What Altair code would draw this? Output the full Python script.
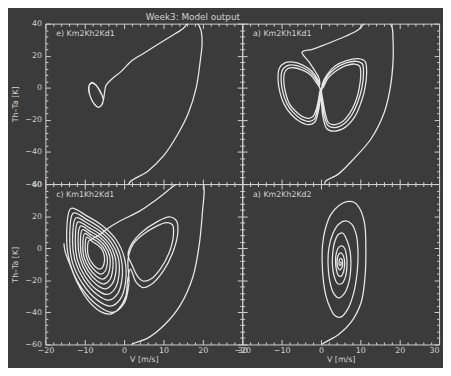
import altair as alt
import pandas as pd

# ---------------- data (V [m/s], Th-Ta [K]) ----------------
TL_APPROACH = [(1.0, -61.0), (1.6, -58.4), (6.1, -51.8), (10.2, -41.8), (13.4, -29.9),
               (16.3, -15.9), (18.3, 0.0), (19.3, 16.0), (19.8, 28.0), (19.5, 36.0),
               (18.5, 40.5), (17.0, 42.0), (15.0, 37.0), (11.8, 32.0), (8.5, 27.0),
               (5.3, 22.0), (2.0, 17.0), (-0.8, 10.1), (-2.9, 6.0), (-4.6, 1.5)]
TL_LOOP = [(-5.0, -3.5), (-5.3, -8.0), (-5.8, -11.0), (-6.6, -12.2), (-7.5, -10.5),
           (-8.4, -6.5), (-9.0, -2.0), (-8.9, 1.5), (-8.3, 3.3), (-7.5, 2.5), (-6.6, 0.0),
           (-5.8, -3.5), (-5.3, -8.0), (-5.9, -11.3), (-6.7, -12.0), (-7.6, -10.0),
           (-8.5, -6.0), (-8.9, -1.8), (-8.8, 1.8), (-8.2, 3.0), (-7.4, 2.0), (-6.5, -0.6),
           (-5.8, -4.0)]

TR_APPROACH = [(1.1, -61.0), (1.1, -58.4), (4.4, -53.8), (8.5, -43.8), (12.7, -31.9),
               (16.0, -15.9), (17.6, 0.0), (18.3, 16.0), (18.3, 30.0), (18.0, 38.0),
               (16.5, 42.5), (13.5, 43.0), (11.0, 40.0), (9.4, 36.0), (6.1, 32.0),
               (1.1, 27.0), (-2.2, 24.0), (-4.8, 22.2), (-3.0, 16.0), (-1.4, 10.0),
               (-0.5, 6.0), (-0.3, 2.0)]
TR_LEFT_A = [(-0.8, 5), (-2.2, 10), (-4.5, 14), (-7.0, 16), (-9.2, 15.5), (-10.6, 12),
             (-10.9, 5), (-10.4, -3), (-9.4, -10), (-7.6, -16.5), (-5.4, -21), (-3.2, -23),
             (-1.6, -21.5), (-0.7, -15), (-0.2, -8), (0.2, -1)]
TR_RIGHT_A = [(0.3, 2), (1.5, 8), (3.5, 13.5), (6.5, 17), (9.5, 18.2), (11.2, 16.5),
              (11.6, 10), (11.2, 0), (10.2, -9), (8.6, -18), (6.2, -24.5), (3.5, -27),
              (1.5, -25.5), (0.5, -18), (0.1, -8), (-0.2, -1)]
TR_LEFT_B = [(-0.9, 4), (-2.4, 9), (-4.6, 12.5), (-6.9, 14.2), (-8.8, 13.5), (-9.9, 10.5),
             (-10.1, 4), (-9.6, -3.5), (-8.6, -10), (-7.0, -15.5), (-5.0, -19.5), (-3.0, -21),
             (-1.7, -19.5), (-0.9, -13.5), (-0.4, -7), (0.0, -1)]
TR_RIGHT_B = [(0.4, 1), (1.6, 7), (3.6, 12), (6.4, 15.5), (9.0, 16.5), (10.5, 15),
              (10.8, 9), (10.4, 0), (9.4, -8.5), (7.9, -16.5), (5.8, -22.5), (3.5, -24.8),
              (1.8, -23.5), (0.8, -17), (0.3, -8), (-0.1, -1)]
TR_LEFT_C = [(-1.1, 3), (-2.6, 8), (-4.7, 11), (-6.8, 12.5), (-8.4, 12), (-9.3, 9),
             (-9.4, 3), (-8.9, -4), (-8.0, -10), (-6.5, -14.5), (-4.7, -18), (-3.0, -19),
             (-1.9, -17.5), (-1.1, -12.5), (-0.6, -7), (-0.1, -1)]
TR_RIGHT_C = [(0.5, 0), (1.8, 6), (3.8, 10.5), (6.3, 13.8), (8.6, 14.8), (9.8, 13.5),
              (10.1, 8), (9.7, -0.5), (8.8, -8.5), (7.4, -15.5), (5.5, -21), (3.6, -23),
              (2.0, -22), (1.1, -16), (0.5, -8), (0.0, -1)]

BL_APPROACH = [(2.0, -61.0), (2.0, -60.0), (6.1, -55.9), (10.2, -47.9), (14.2, -35.8),
               (17.5, -17.6), (19.1, 2.6), (19.9, 22.8), (20.3, 37.0), (19.8, 42.0),
               (17.0, 43.5), (13.4, 40.0), (8.5, 30.9), (3.7, 22.8), (-1.2, 16.8),
               (-4.5, 11.7), (-6.1, 8.7), (-8.0, 6.0)]
BL_LEFT_1 = [(-9.0, 4.5), (-9.3, 0.1), (-9.1, -4.6), (-8.3, -8.7), (-7.2, -11.8), (-6.1, -13.0),
             (-5.4, -11.6), (-5.0, -8.2), (-5.1, -4.0), (-5.7, -0.4), (-6.8, 2.2), (-8.0, 4.0)]
BL_LEFT_2 = [(-9.5, 6.9), (-9.9, 1.1), (-9.6, -5.0), (-8.6, -10.5), (-7.1, -14.6), (-5.8, -16.1),
             (-4.8, -14.2), (-4.3, -9.8), (-4.4, -4.4), (-5.3, 0.4), (-6.6, 3.8), (-8.2, 6.2)]
BL_LEFT_3 = [(-10.0, 9.2), (-10.5, 2.0), (-10.2, -5.5), (-8.9, -12.2), (-7.1, -17.3), (-5.4, -19.2),
             (-4.2, -16.9), (-3.6, -11.4), (-3.7, -4.7), (-4.8, 1.2), (-6.5, 5.4), (-8.4, 8.3)]
BL_LEFT_4 = [(-10.6, 11.5), (-11.1, 3.0), (-10.7, -6.0), (-9.2, -14.0), (-7.1, -20.0), (-5.1, -22.3),
             (-3.6, -19.5), (-2.9, -13.0), (-3.0, -5.0), (-4.3, 2.0), (-6.3, 7.0), (-8.6, 10.5)]
BL_LEFT_5 = [(-11.1, 13.8), (-11.7, 4.0), (-11.2, -6.5), (-9.5, -15.8), (-7.0, -22.7), (-4.7, -25.3),
             (-3.0, -22.1), (-2.1, -14.6), (-2.3, -5.3), (-3.8, 2.8), (-6.1, 8.6), (-8.8, 12.7)]
BL_LEFT_6 = [(-11.7, 16.4), (-12.4, 5.0), (-11.9, -7.0), (-9.9, -17.7), (-7.0, -25.8), (-4.3, -28.8),
             (-2.3, -25.1), (-1.3, -16.4), (-1.5, -5.7), (-3.3, 3.7), (-6.0, 10.4), (-9.0, 15.1)]
BL_LEFT_7 = [(-12.2, 19.0), (-13.1, 6.1), (-12.5, -7.6), (-10.2, -19.7), (-6.9, -28.8), (-3.9, -32.3),
             (-1.6, -28.1), (-0.5, -18.2), (-0.8, -6.0), (-2.7, 4.6), (-5.8, 12.2), (-9.2, 17.5)]
BL_LEFT_8 = [(-12.9, 21.9), (-13.8, 7.3), (-13.2, -8.2), (-10.6, -21.9), (-6.9, -32.2), (-3.4, -36.1),
             (-0.9, -31.4), (0.4, -20.2), (0.1, -6.4), (-2.1, 5.6), (-5.6, 14.2), (-9.5, 20.2)]
BL_LEFT_9 = [(-13.5, 24.8), (-14.6, 8.5), (-13.8, -8.8), (-11.0, -24.1), (-6.8, -35.6), (-3.0, -40.0),
             (-0.1, -34.7), (1.2, -22.2), (1.0, -6.8)]
BL_RIGHT_1 = [(2.3, 2.5), (4.8, 8.5), (8.0, 13.5), (10.8, 16.0), (12.3, 14.5), (12.5, 7.5),
              (11.4, -3.0), (9.3, -12.5), (6.9, -19.0), (4.9, -20.5), (3.4, -17.5), (2.1, -11.0),
              (1.0, -4.0)]
BL_RIGHT_2 = [(2.0, 3.0), (4.5, 10.0), (8.0, 16.0), (11.5, 19.5), (13.3, 17.0), (13.6, 9.0),
              (12.3, -3.0), (10.0, -14.0), (7.2, -22.0), (4.8, -24.5), (3.0, -21.0), (1.6, -13.0)]
BL_END = [(0.9, -20.0), (0.4, -30.0), (-1.3, -37.5), (-3.4, -41.0), (-6.0, -39.5), (-9.0, -33.0),
          (-11.8, -22.0), (-13.8, -10.0), (-15.0, -2.0), (-15.3, 3.0)]

BR_APPROACH = [(0.3, -61.0), (0.3, -60.0), (4.4, -54.0), (7.7, -45.9), (10.2, -33.8),
               (11.2, -17.6), (11.4, 0.0), (11.1, 15.0), (10.0, 24.0), (8.5, 28.5),
               (6.5, 29.0), (4.5, 26.5), (2.5, 21.0), (1.1, 12.0), (0.4, 2.0), (0.3, -8.0),
               (0.6, -20.0), (1.3, -30.0), (2.4, -37.5), (3.5, -42.0), (5.0, -43.0)]
BR_SPIRAL = [(6.8, -38.0), (8.3, -28.0), (9.2, -15.0), (9.4, -2.0), (9.0, 8.0), (7.8, 15.0),
             (6.3, 17.0), (4.5, 15.0), (3.0, 9.0), (2.0, 0.0), (1.8, -10.0), (2.2, -20.0),
             (3.2, -28.0), (4.5, -31.0), (6.0, -28.0), (7.2, -20.0), (7.6, -10.0), (7.4, -2.0),
             (6.6, 5.0), (5.5, 9.5), (4.4, 8.5), (3.5, 4.0), (3.0, -3.0), (2.9, -10.0),
             (3.3, -17.0), (4.2, -22.0), (5.3, -22.0), (6.2, -18.0), (6.6, -11.0), (6.5, -5.0),
             (6.0, 0.0), (5.3, 1.5), (4.5, 0.5), (3.9, -3.0), (3.7, -8.0), (3.9, -13.0),
             (4.4, -17.0), (5.1, -17.5), (5.7, -15.0), (6.0, -10.5), (5.9, -6.5), (5.4, -3.5),
             (4.8, -3.0), (4.3, -5.0), (4.1, -8.5), (4.3, -12.0), (4.8, -13.5), (5.3, -12.0),
             (5.5, -9.0), (5.2, -6.5), (4.8, -6.5), (4.6, -8.5), (4.7, -10.5), (5.0, -10.5),
             (5.1, -9.0), (4.9, -8.5)]

PANEL_LABELS = ["e) Km2Kh2Kd1", "a) Km2Kh1Kd1", "c) Km1Kh2Kd1", "a) Km2Kh2Kd2"]
X_MAJOR = [-20, -10, 0, 10, 20, 30]
X_MINOR = [-18, -16, -14, -12, -8, -6, -4, -2, 2, 4, 6, 8, 12, 14, 16, 18, 22, 24, 26, 28]
Y_MAJOR = [-60, -40, -20, 0, 20, 40]
Y_MINOR = [-56, -52, -48, -44, -36, -32, -28, -24, -16, -12, -8, -4, 4, 8, 12, 16, 24, 28, 32, 36]
TITLE = "Week3: Model output"
X_TITLE = "V [m/s]"
Y_TITLE = "Th\u2013Ta [K]"

# ---------------- styling ----------------
W, H = 200, 163
BG = "#3b3b3b"
LINE = "#e6e6e6"
INK = "#d2d2d2"
FONT = "DejaVu Sans"


def build(segs):
    V, T = [], []
    for s in segs:
        for v, t in s:
            V.append(v)
            T.append(t)
    return pd.DataFrame({"V": V, "T": T, "i": list(range(len(V)))})


CORNERS = pd.DataFrame({"V": [X_MAJOR[0], X_MAJOR[-1]], "T": [Y_MAJOR[0], Y_MAJOR[-1]]})


def panel(df, label, show_x, show_y, right_col, title=None):
    xs = alt.Scale(domain=[-20, 30], nice=False, zero=False)
    ys = alt.Scale(domain=[-60, 40], nice=False, zero=False)
    if show_x:
        align = alt.ExprRef(expr="datum.value == 30 ? 'right' : 'center'") if right_col else "center"
        xax = alt.Axis(values=X_MAJOR, ticks=False, domain=False, grid=False, title=X_TITLE,
                       labelPadding=2, titlePadding=1, labelFlush=False, labelAlign=align,
                       labelOverlap=False)
    else:
        xax = None
    if show_y:
        yax = alt.Axis(values=Y_MAJOR, ticks=False, domain=False, grid=False, title=Y_TITLE,
                       labelPadding=4, titlePadding=5, labelOverlap=False)
    else:
        yax = None
    line = alt.Chart(df).mark_line(color=LINE, strokeWidth=1.3, clip=True,
                                   interpolate="catmull-rom").encode(
        x=alt.X("V:Q", scale=xs, axis=xax),
        y=alt.Y("T:Q", scale=ys, axis=yax),
        order="i:Q",
    )

    def ticks(xo, xoff, yo, yoff, xv, yv, size):
        return alt.Chart(CORNERS).mark_point(opacity=0).encode(
            x=alt.X("V:Q", scale=xs, axis=alt.Axis(orient=xo, offset=xoff, values=xv, tickSize=size,
                                                   labels=False, domain=False, grid=False, title=None,
                                                   tickColor=INK, tickWidth=1)),
            y=alt.Y("T:Q", scale=ys, axis=alt.Axis(orient=yo, offset=yoff, values=yv, tickSize=size,
                                                   labels=False, domain=False, grid=False, title=None,
                                                   tickColor=INK, tickWidth=1)),
        )

    layers = [line,
              ticks("top", -H, "right", -W, X_MAJOR, Y_MAJOR, 5),
              ticks("top", -H, "right", -W, X_MINOR, Y_MINOR, 2.5),
              ticks("bottom", -H, "left", -W, X_MAJOR, Y_MAJOR, 5),
              ticks("bottom", -H, "left", -W, X_MINOR, Y_MINOR, 2.5)]
    layers.append(alt.Chart(pd.DataFrame({"t": [label]})).mark_text(
        align="left", baseline="alphabetic", fontSize=8, font=FONT, color=INK
    ).encode(x=alt.value(11), y=alt.value(13), text="t:N"))
    if title:
        layers.append(alt.Chart(pd.DataFrame({"t": [title]})).mark_text(
            align="left", baseline="alphabetic", fontSize=9, font=FONT, color=INK
        ).encode(x=alt.value(102), y=alt.value(-4), text="t:N"))
    return alt.layer(*layers).resolve_axis(
        x="independent", y="independent").properties(width=W, height=H)


tl = panel(build([TL_APPROACH, TL_LOOP]), PANEL_LABELS[0], False, True, False, TITLE)
tr = panel(build([TR_APPROACH, TR_LEFT_A, TR_RIGHT_A, TR_LEFT_B, TR_RIGHT_B, TR_LEFT_C, TR_RIGHT_C]),
           PANEL_LABELS[1], False, False, True)
bl = panel(build([BL_APPROACH, BL_LEFT_1, BL_LEFT_2, BL_LEFT_3, BL_LEFT_4, BL_LEFT_5, BL_LEFT_6,
                  BL_LEFT_7, BL_LEFT_8, BL_LEFT_9, BL_RIGHT_1, BL_RIGHT_2, BL_END]),
           PANEL_LABELS[2], True, True, False)
br = panel(build([BR_APPROACH, BR_SPIRAL]), PANEL_LABELS[3], True, False, True)

chart = alt.concat(tl, tr, bl, br, columns=2, spacing=0, bounds="flush").properties(
    background=BG,
    padding={"left": 3, "top": 1, "right": 0, "bottom": 1},
).configure_view(stroke="#cfcfcf", strokeWidth=1).configure_axis(
    labelFont=FONT, labelFontSize=8, labelColor=INK, titleFont=FONT, titleFontSize=8,
    titleColor=INK, titleFontWeight="normal"
)

chart.save("out.html", embed_options={"renderer": "svg", "actions": False})
